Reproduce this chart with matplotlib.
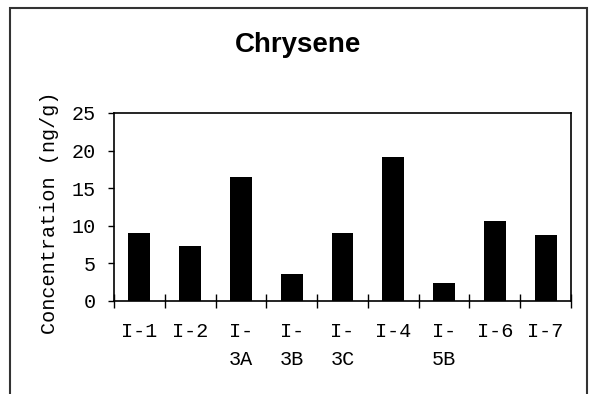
import matplotlib.pyplot as plt
from matplotlib.patches import Rectangle

samples = ["I-1", "I-2", "I-\n3A", "I-\n3B", "I-\n3C", "I-4", "I-\n5B", "I-6", "I-7"]
chrysene = [9.1, 7.35, 16.5, 3.65, 9.0, 19.2, 2.4, 10.7, 8.75]
yticks = [0, 5, 10, 15, 20, 25]

mono = "Liberation Mono"

fig = plt.figure(figsize=(5.89, 3.94), dpi=100)
ax = fig.add_axes([114 / 589, 1 - 301 / 394, 457 / 589, 188 / 394])

x = range(len(samples))
ax.bar(x, chrysene, width=0.43, color="black")

ax.set_xlim(-0.5, len(samples) - 0.5)
ax.set_ylim(0, 25)

# category ticks sit on the boundaries, labels in the middle
ax.set_xticks([i - 0.5 for i in range(len(samples) + 1)])
ax.set_xticklabels([])
ax.set_xticks(list(x), minor=True)
ax.set_xticklabels(samples, minor=True, fontfamily=mono, fontsize=14.5, linespacing=1.6,
                   va="top")
ax.tick_params(axis="x", which="major", direction="inout", length=10, width=1)
ax.tick_params(axis="x", which="minor", length=0, pad=15)

ax.set_yticks(yticks)
ax.set_yticklabels([str(v) for v in yticks], fontfamily=mono, fontsize=14.5)
ax.tick_params(axis="y", direction="out", length=4, width=1, pad=9)

for s in ax.spines.values():
    s.set_linewidth(1.2)

fig.text(50 / 589, 1 - 213 / 394, "Concentration (ng/g)", rotation=90, ha="center", va="center",
         fontfamily=mono, fontsize=14.5)
fig.text(298 / 589, 1 - 45 / 394, "Chrysene", ha="center", va="center",
         fontfamily="Liberation Sans", fontweight="bold", fontsize=20)

# outer frame, runs off the bottom of the picture
fig.patches.append(Rectangle((9.5 / 589, -0.2), 577 / 589, 1.2 - 8 / 394,
                             transform=fig.transFigure, fill=False, edgecolor="#333333",
                             linewidth=1.5))

fig.savefig("out.png", dpi=100)
